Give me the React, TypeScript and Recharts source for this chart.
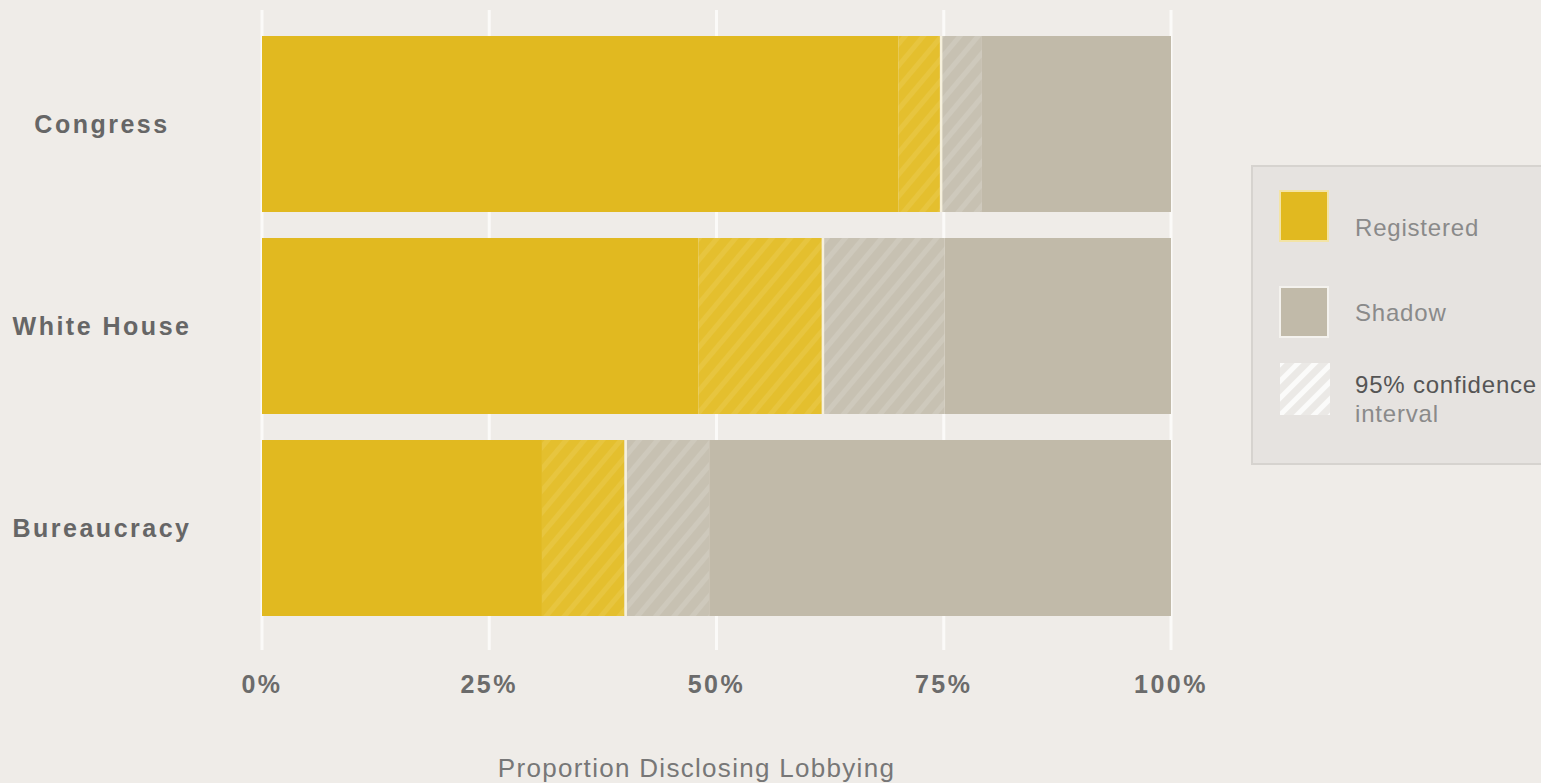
import React from 'react';
import { BarChart, Bar, XAxis, YAxis, CartesianGrid, Label } from 'recharts';

const categories = ['Congress', 'White House', 'Bureaucracy'];
const registered = [74.6, 61.6, 39.9];
const ciLow = [70.0, 48.0, 30.8];
const ciHigh = [79.2, 75.1, 49.2];
const xTicks = [0, 25, 50, 75, 100];

const BG = '#efece8';
const YELLOW = '#e1b920';
const YELLOW_CI = '#e4bf2e';
const GREY = '#c1baa9';
const GREY_CI = '#c7c1b2';
const FONT = '"Liberation Sans", Arial, sans-serif';

const rows = categories.map((name, i) => ({
  name,
  regSolid: ciLow[i],
  regCI: registered[i] - ciLow[i],
  shadowCI: ciHigh[i] - registered[i],
  shadowSolid: 100 - ciHigh[i],
}));

const CategoryTick = (props: any) => {
  const { y, payload } = props;
  return (
    <text x={102} y={y} dy={9} textAnchor="middle" fill="#666" fontFamily={FONT}
      fontWeight="bold" fontSize={25} letterSpacing={2.5}>
      {payload.value}
    </text>
  );
};

// shadow CI segment with a light separator on its left edge
const ShadowCIShape = (props: any) => {
  const { x, y, width, height } = props;
  return (
    <g>
      <rect x={x} y={y} width={width} height={height} fill="url(#hatchGrey)" />
      <line x1={x + 1} x2={x + 1} y1={y} y2={y + height} stroke="#f6f0dc" strokeWidth={2.5} />
    </g>
  );
};

const LegendBox = () => (
  <div style={{
    position: 'absolute', left: 1251, top: 165, width: 320, height: 300,
    background: '#e6e3e0', border: '2px solid #d6d3cf', boxSizing: 'border-box', fontFamily: FONT,
  }}>
    <svg width={320} height={300} style={{ position: 'absolute', left: 0, top: 0 }}>
      <defs>
        <pattern id="hatchLegend" width="12" height="12" patternUnits="userSpaceOnUse" patternTransform="rotate(45)">
          <rect width="12" height="12" fill="#ebe9e6" />
          <rect width="5" height="12" fill="#fbfbfa" />
        </pattern>
      </defs>
      <rect x={27} y={24} width={48} height={50} fill={YELLOW} stroke="#f3e4a6" strokeWidth={2} />
      <rect x={27} y={120} width={48} height={50} fill={GREY} stroke="#f4f2ee" strokeWidth={2} />
      <rect x={27} y={196} width={50} height={52} fill="url(#hatchLegend)" />
      <text x={102} y={69} fontSize={24} letterSpacing={0.8} fill="#8a8a8a">Registered</text>
      <text x={102} y={154} fontSize={24} letterSpacing={0.8} fill="#8a8a8a">Shadow</text>
      <text x={102} y={226} fontSize={24} letterSpacing={0.8} fill="#555">95% confidence</text>
      <text x={102} y={255} fontSize={24} letterSpacing={0.8} fill="#8a8a8a">interval</text>
    </svg>
  </div>
);

export default function App() {
  return (
    <div style={{ position: 'absolute', left: 0, top: 0, width: 1541, height: 783, overflow: 'hidden', background: BG }}>
      <BarChart
        width={1541}
        height={783}
        data={rows}
        layout="vertical"
        margin={{ top: 10, right: 370, bottom: 0, left: 0 }}
        barSize={176}
      >
        <defs>
          <pattern id="hatchYellow" width="14" height="14" patternUnits="userSpaceOnUse" patternTransform="rotate(40)">
            <rect width="14" height="14" fill={YELLOW_CI} />
            <rect width="5" height="14" fill="#e7c53f" />
          </pattern>
          <pattern id="hatchGrey" width="14" height="14" patternUnits="userSpaceOnUse" patternTransform="rotate(40)">
            <rect width="14" height="14" fill={GREY_CI} />
            <rect width="5" height="14" fill="#cec9bc" />
          </pattern>
        </defs>
        <CartesianGrid horizontal={false} stroke="#fbfaf8" strokeWidth={3} />
        <XAxis
          type="number"
          domain={[0, 100]}
          ticks={xTicks}
          tickFormatter={(v) => `${v}%`}
          axisLine={false}
          tickLine={false}
          tickSize={0}
          tickMargin={25}
          height={133}
          tick={{ fill: '#6b6b6b', fontSize: 25, fontWeight: 'bold', fontFamily: FONT, letterSpacing: 2.5 }}
        >
          <Label
            value="Proportion Disclosing Lobbying"
            position="insideBottom"
            offset={6}
            dx={-20}
            style={{ fill: '#777', fontSize: 26, fontFamily: FONT, letterSpacing: 1.3 }}
          />
        </XAxis>
        <YAxis
          type="category"
          dataKey="name"
          width={262}
          axisLine={false}
          tickLine={false}
          padding={{ top: 13, bottom: 21 }}
          tick={<CategoryTick />}
        />
        <Bar dataKey="regSolid" stackId="a" fill={YELLOW} isAnimationActive={false} />
        <Bar dataKey="regCI" stackId="a" fill="url(#hatchYellow)" isAnimationActive={false} />
        <Bar dataKey="shadowCI" stackId="a" shape={<ShadowCIShape />} isAnimationActive={false} />
        <Bar dataKey="shadowSolid" stackId="a" fill={GREY} isAnimationActive={false} />
      </BarChart>
      <LegendBox />
    </div>
  );
}
